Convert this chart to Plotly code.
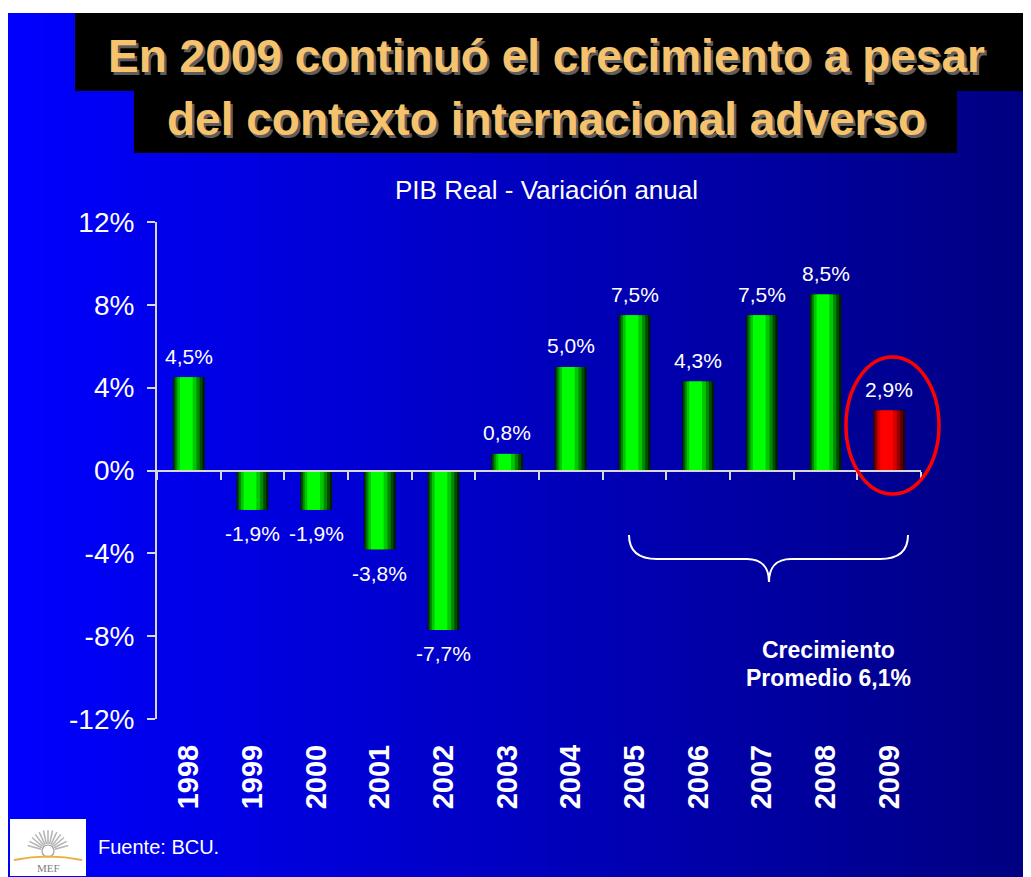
import math
import plotly.graph_objects as go

# ---------------- data ----------------
years = ["1998", "1999", "2000", "2001", "2002", "2003", "2004", "2005", "2006", "2007", "2008", "2009"]
growth = [4.5, -1.9, -1.9, -3.8, -7.7, 0.8, 5.0, 7.5, 4.3, 7.5, 8.5, 2.9]
y_tick_vals = [-12, -8, -4, 0, 4, 8, 12]
y_tick_text = ["-12%", "-8%", "-4%", "0%", "4%", "8%", "12%"]
title_lines = ["En 2009 continuó el crecimiento a pesar", "del contexto internacional adverso"]
subtitle = "PIB Real - Variación anual"
avg_note = ["Crecimiento", "Promedio 6,1%"]
source = "Fuente: BCU."

# ---------------- geometry helpers (window pixel -> paper) ----------------
OFF = 8                      # page body margin
WIN_W, WIN_H = 1031, 877
FW, FH = WIN_W - OFF, WIN_H - OFF
L, R, T, B = 157, 921, 222, 719   # plot area in window pixels
PW, PH = R - L, B - T


def px(x):
    return (x - L) / PW


def py(y):
    return (B - y) / PH


FONT = "Liberation Sans, Arial, sans-serif"

# does this plotly support font shadows?
try:
    go.layout.annotation.Font(shadow="2px 2px 0px #5e5e5e")
    HAS_SHADOW = True
except Exception:
    HAS_SHADOW = False

fig = go.Figure()

# ---------------- gradient bars (layered) ----------------
green_layers = ["#001c00", "#004c00", "#008800", "#00c800", "#00ff00"]
red_layers = ["#2a0000", "#600000", "#980000", "#d40000", "#ff0000"]
widths = [0.50, 0.45, 0.38, 0.30, 0.20]
shifts = [0.0, -0.01, -0.02, -0.03, -0.04]
n = len(years)
xi = list(range(n))
for w, s, gc, rc in zip(widths, shifts, green_layers, red_layers):
    colors = [gc] * (n - 1) + [rc]
    fig.add_trace(go.Bar(
        x=years, y=growth, width=[w] * n, offset=[-w / 2 + s] * n,
        marker=dict(color=colors, line=dict(width=0)),
        showlegend=False, hoverinfo="skip",
    ))

# invisible trace for the zero-line axis
fig.add_trace(go.Scatter(x=years, y=[0] * n, xaxis="x2", mode="markers",
                         marker=dict(opacity=0, size=1), showlegend=False, hoverinfo="skip"))

# ---------------- shapes ----------------
shapes = []
# background gradient strips (each runs to the right edge, later ones cover earlier)
x_start, x_end = 8, WIN_W + 2
nstrips = 110
step = (x_end - x_start) / nstrips
for i in range(nstrips):
    t = (i + 0.5) / nstrips
    b = int(round(255 - 127 * t))
    shapes.append(dict(type="rect", xref="paper", yref="paper", layer="below",
                       x0=px(x_start + i * step), x1=px(x_end),
                       y0=py(WIN_H + 2), y1=py(13), line=dict(width=0),
                       fillcolor=f"rgb(0,0,{b})"))
# title black boxes
shapes.append(dict(type="rect", xref="paper", yref="paper", layer="below",
                   x0=px(75), x1=px(1029), y0=py(91), y1=py(13), line=dict(width=0), fillcolor="black"))
shapes.append(dict(type="rect", xref="paper", yref="paper", layer="below",
                   x0=px(134), x1=px(957), y0=py(153), y1=py(90), line=dict(width=0), fillcolor="black"))
# red ellipse around 2009
shapes.append(dict(type="circle", xref="paper", yref="paper",
                   x0=px(846), x1=px(939), y0=py(494), y1=py(357),
                   line=dict(color="#ff0000", width=3.5)))


def P(x, y):
    return f"{px(x):.5f},{py(y):.5f}"


# brace
brace = (f"M {P(629,535)} C {P(629,552)} {P(640,559)} {P(657,559)} L {P(747,559)} "
         f"C {P(762,559)} {P(769,568)} {P(769,582)} C {P(769,568)} {P(776,559)} {P(791,559)} "
         f"L {P(880,559)} C {P(897,559)} {P(908,552)} {P(908,535)}")
shapes.append(dict(type="path", xref="paper", yref="paper", path=brace,
                   line=dict(color="white", width=2)))
# MEF logo box
shapes.append(dict(type="rect", xref="paper", yref="paper",
                   x0=px(10), x1=px(86), y0=py(876), y1=py(819),
                   line=dict(width=0), fillcolor="white"))
cx, cy = 48, 851
for k in range(13):
    a = math.radians(15 + k * 150 / 12)
    x0, y0 = cx + 7 * math.cos(a), cy - 7 * math.sin(a)
    x1, y1 = cx + 21 * math.cos(a), cy - 21 * math.sin(a)
    shapes.append(dict(type="line", xref="paper", yref="paper",
                       x0=px(x0), y0=py(y0), x1=px(x1), y1=py(y1),
                       line=dict(color="#b4b4b4", width=1.5)))
shapes.append(dict(type="circle", xref="paper", yref="paper",
                   x0=px(42), x1=px(54), y0=py(857), y1=py(845),
                   line=dict(color="#a0a0a0", width=1.2), fillcolor="white"))
shapes.append(dict(type="path", xref="paper", yref="paper",
                   path=f"M {P(14,860)} Q {P(48,853)} {P(82,860)}",
                   line=dict(color="#e8b040", width=2)))

# ---------------- annotations ----------------
ann = []
# title with shadow
for text, yc in zip(title_lines, [56, 119]):
    if HAS_SHADOW:
        ann.append(dict(text=f"<b>{text}</b>", xref="paper", yref="paper", x=px(546), y=py(yc),
                        xanchor="center", yanchor="middle", showarrow=False,
                        font=dict(family=FONT, size=46, color="#f6c26b",
                                  shadow="2.5px 2.5px 0px #5e5e5e")))
    else:
        ann.append(dict(text=f"<b>{text}</b>", xref="paper", yref="paper", x=px(546), y=py(yc),
                        xanchor="center", yanchor="middle", showarrow=False, xshift=2.5, yshift=-2.5,
                        font=dict(family=FONT, size=46, color="#5e5e5e")))
        ann.append(dict(text=f"<b>{text}</b>", xref="paper", yref="paper", x=px(546), y=py(yc),
                        xanchor="center", yanchor="middle", showarrow=False,
                        font=dict(family=FONT, size=46, color="#f6c26b")))
# subtitle
ann.append(dict(text=subtitle, xref="paper", yref="paper", x=px(546), y=py(190),
                xanchor="center", yanchor="middle", showarrow=False,
                font=dict(family=FONT, size=26, color="white")))
# value labels (category index positions)
for i, v in zip(xi, growth):
    lab = f"{v:.1f}".replace(".", ",") + "%"
    ann.append(dict(text=lab, x=i, y=v, xref="x", yref="y", showarrow=False,
                    xanchor="center", yanchor="middle", yshift=21 if v >= 0 else -24,
                    font=dict(family=FONT, size=21, color="white")))
# average note
for text, yc in zip(avg_note, [650, 678]):
    ann.append(dict(text=f"<b>{text}</b>", xref="paper", yref="paper", x=px(828), y=py(yc),
                    xanchor="center", yanchor="middle", showarrow=False,
                    font=dict(family=FONT, size=23, color="white")))
# source
ann.append(dict(text=source, xref="paper", yref="paper", x=px(96), y=py(847),
                xanchor="left", yanchor="middle", showarrow=False,
                font=dict(family=FONT, size=20, color="white")))
# logo text
ann.append(dict(text="MEF", xref="paper", yref="paper", x=px(48), y=py(868),
                xanchor="center", yanchor="middle", showarrow=False,
                font=dict(family="Liberation Serif, serif", size=11, color="#808080")))

fig.update_layout(
    width=FW, height=FH, autosize=False,
    margin=dict(l=L - OFF, r=WIN_W - R, t=T - OFF, b=WIN_H - B, pad=0),
    paper_bgcolor="white", plot_bgcolor="rgba(0,0,0,0)",
    barmode="overlay", showlegend=False,
    shapes=shapes, annotations=ann,
    xaxis=dict(type="category", categoryarray=years, range=[-0.5, 11.5],
               showline=False, showgrid=False, zeroline=False, ticks="",
               tickangle=-90, ticklabelstandoff=19,
               tickfont=dict(family=FONT, size=29, color="white", weight="bold")),
    xaxis2=dict(type="category", categoryarray=years, range=[-0.5, 11.5],
                overlaying="x", anchor="free", position=py(470.7),
                showline=True, linecolor="#d8d8d8", linewidth=2,
                ticks="outside", ticklen=8, tickwidth=2, tickcolor="#d8d8d8",
                tickson="boundaries", showticklabels=False, showgrid=False, zeroline=False),
    yaxis=dict(range=[-12, 12], tickvals=y_tick_vals, ticktext=y_tick_text,
               showline=True, linecolor="#d8d8d8", linewidth=2,
               ticks="outside", ticklen=8, tickwidth=2, tickcolor="#d8d8d8",
               showgrid=False, zeroline=False, ticklabelstandoff=7,
               tickfont=dict(family=FONT, size=28, color="white")),
)

fig.write_html("out.html")
